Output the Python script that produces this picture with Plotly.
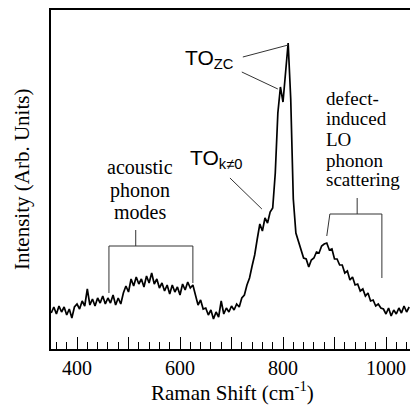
import plotly.graph_objects as go

# Raman shift (cm^-1)
shift = [350, 355, 360, 365, 370, 375, 380, 385, 390, 395,
         400, 405, 410, 415, 420, 425, 430, 435, 440, 445,
         450, 455, 460, 465, 470, 475, 480, 485, 490, 495,
         500, 505, 510, 515, 520, 525, 530, 535, 540, 545,
         550, 555, 560, 565, 570, 575, 580, 585, 590, 595,
         600, 605, 610, 615, 620, 625, 630, 635, 640, 645,
         650, 655, 660, 665, 670, 675, 680, 685, 690, 695,
         700, 705, 710, 715, 720, 725, 730, 735, 740, 745,
         750, 755, 760, 765, 770, 775, 780, 785, 790, 795,
         800, 805, 810, 815, 820, 825, 830, 835, 840, 845,
         850, 855, 860, 865, 870, 875, 880, 885, 890, 895,
         900, 905, 910, 915, 920, 925, 930, 935, 940, 945,
         950, 955, 960, 965, 970, 975, 980, 985, 990, 995,
         1000, 1005, 1010, 1015, 1020, 1025, 1030, 1035, 1040, 1045]

# Intensity (arb. units)
intensity = [36, 42, 35, 43, 37, 42, 34, 40, 31, 42,
             45, 40, 48, 43, 60, 44, 50, 43, 51, 46,
             53, 45, 51, 46, 54, 44, 51, 45, 56, 63,
             57, 70, 63, 72, 65, 70, 62, 73, 66, 76,
             65, 70, 61, 66, 58, 64, 55, 64, 57, 62,
             54, 65, 59, 67, 61, 64, 54, 44, 49, 40,
             41, 34, 39, 30, 37, 32, 48, 35, 41, 37,
             43, 39, 45, 42, 51, 54, 64, 71, 83, 94,
             110, 125, 118, 131, 126, 137, 141, 176, 236, 262,
             247, 276, 306, 250, 150, 116, 108, 101, 91, 90,
             82, 89, 91, 97, 96, 103, 105, 106, 99, 100,
             90, 90, 84, 84, 76, 78, 69, 72, 64, 65,
             58, 60, 53, 56, 48, 49, 43, 45, 41, 40,
             35, 41, 33, 39, 35, 41, 36, 43, 37, 42]

labeled_ticks = [400, 600, 800, 1000]
unlabeled_major_ticks = [500, 700, 900]

SERIF = "Liberation Serif, Times New Roman, serif"
SANS = "Liberation Sans, Arial, sans-serif"
XRANGE = [349.5, 1046.6]

fig = go.Figure()
fig.add_trace(go.Scatter(x=shift, y=intensity, mode="lines",
                         line=dict(color="black", width=1.7), showlegend=False))
# invisible copy on the overlay axis that carries the unlabeled major ticks
fig.add_trace(go.Scatter(x=shift, y=intensity, mode="lines", xaxis="x2", opacity=0,
                         hoverinfo="skip", showlegend=False))

br = dict(color="#333333", width=1)
shapes = [
    # TO_ZC pointers
    dict(type="line", x0=722, y0=292, x1=810, y1=304, line=br),
    dict(type="line", x0=720, y0=277, x1=790, y1=260, line=br),
    # TO_k!=0 pointer
    dict(type="line", x0=697, y0=171, x1=759, y1=140, line=br),
    # acoustic bracket
    dict(type="line", x0=514, y0=119, x1=514, y1=103, line=br),
    dict(type="line", x0=462, y0=103, x1=625, y1=103, line=br),
    dict(type="line", x0=462, y0=103, x1=462, y1=56, line=br),
    dict(type="line", x0=625, y0=103, x1=625, y1=66, line=br),
    # defect bracket
    dict(type="line", x0=944, y0=151, x1=944, y1=135, line=br),
    dict(type="line", x0=891, y0=135, x1=992, y1=135, line=br),
    dict(type="line", x0=891, y0=135, x1=885, y1=113, line=br),
    dict(type="line", x0=992, y0=135, x1=992, y1=71, line=br),
]
for s in shapes:
    s["xref"] = "x"
    s["yref"] = "y"

ann = []
ann.append(dict(x=606, y=290, text="TO<sub>ZC</sub>", xanchor="left", yanchor="middle",
                showarrow=False, font=dict(family=SANS, size=21, color="black")))
ann.append(dict(x=616, y=190, text="TO<sub>k≠0</sub>", xanchor="left", yanchor="middle",
                showarrow=False, font=dict(family=SANS, size=21, color="black")))
for t, yy in [("acoustic", 182), ("phonon", 159), ("modes", 137)]:
    ann.append(dict(x=522, y=yy, text=t, xanchor="center", yanchor="middle",
                    showarrow=False, font=dict(family=SERIF, size=20, color="black")))
for t, yy in [("defect-", 251), ("induced", 231), ("LO", 210), ("phonon", 189), ("scattering", 170)]:
    ann.append(dict(x=880, y=yy, text=t, xanchor="left", yanchor="middle",
                    showarrow=False, font=dict(family=SERIF, size=19, color="black")))
for a in ann:
    a["xref"] = "x"
    a["yref"] = "y"

ann.append(dict(xref="x domain", x=(22 - 51) / 359, yref="y domain", y=(349 - 180) / 339,
                text="Intensity (Arb. Units)", textangle=-90, showarrow=False,
                xanchor="center", yanchor="middle",
                font=dict(family=SERIF, size=21, color="black")))
ann.append(dict(xref="x domain", x=(232 - 51) / 359, yref="y domain", y=(349 - 391) / 339,
                text="Raman Shift (cm<sup>-1</sup>)", showarrow=False, xanchor="center",
                yanchor="middle", font=dict(family=SERIF, size=21, color="black")))

fig.update_layout(
    width=410, height=409,
    margin=dict(l=51, r=0, t=10, b=60),
    paper_bgcolor="white", plot_bgcolor="white",
    shapes=shapes, annotations=ann,
    xaxis=dict(range=XRANGE, showgrid=False, zeroline=False,
               showline=True, linecolor="black", linewidth=1.5, mirror=True,
               ticks="inside", ticklen=12, tickwidth=1.2, tickcolor="black",
               tickvals=labeled_ticks,
               tickfont=dict(family=SERIF, size=20, color="black"),
               minor=dict(dtick=20, tick0=0, ticks="inside", ticklen=7, tickwidth=1, tickcolor="black")),
    xaxis2=dict(range=XRANGE, overlaying="x", anchor="y", side="bottom",
                showgrid=False, zeroline=False, showline=False, showticklabels=False,
                ticks="inside", ticklen=12, tickwidth=1.2, tickcolor="black",
                tickvals=unlabeled_major_ticks),
    yaxis=dict(range=[0, 339], showgrid=False, zeroline=False, showticklabels=False,
               showline=True, linecolor="black", linewidth=1.5, ticks=""),
)
fig.write_html("out.html")
